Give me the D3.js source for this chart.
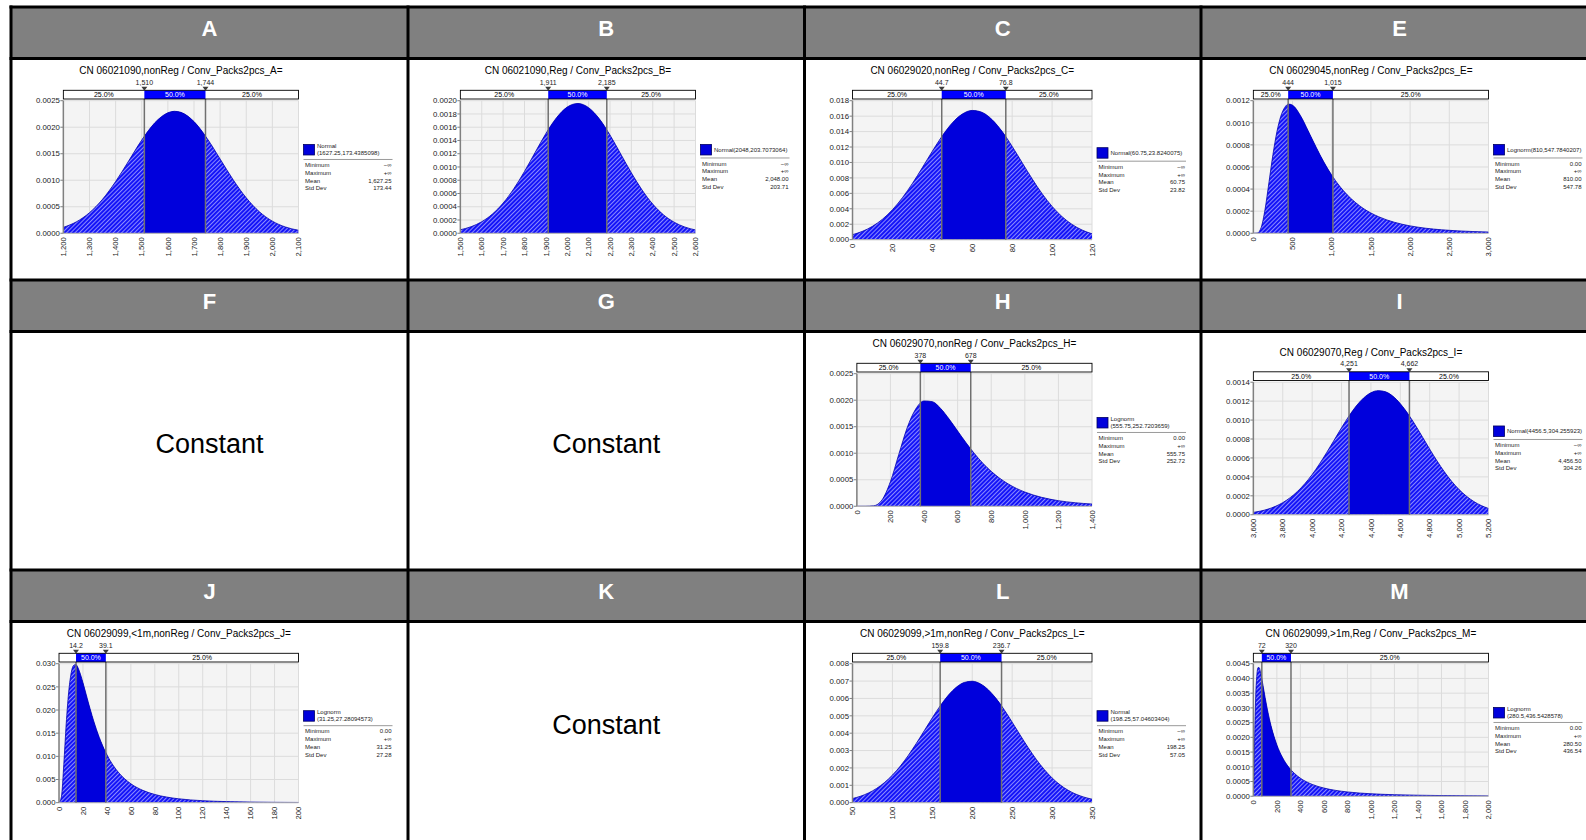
<!DOCTYPE html>
<html><head><meta charset="utf-8">
<script src="https://cdn.jsdelivr.net/npm/d3@7"></script>
<style>html,body{margin:0;padding:0;background:#fff;} svg{display:block;font-family:"Liberation Sans",Arial,sans-serif;}</style>
</head><body><svg id="c" width="1586" height="840"></svg>
<script>
// ---------- DATA ----------
const headers = ["A","B","C","E","F","G","H","I","J","K","L","M"];
const constantCells = ["F","G","K"];
const constantText = "Constant";
const pctLabels = ["25.0%","50.0%","25.0%"];
const statNames = ["Minimum","Maximum","Mean","Std Dev"];

// A
const titleA = "CN 06021090,nonReg / Conv_Packs2pcs_A=";
const xA = [1200,1250,1300,1350,1400,1450,1500,1550,1600,1625,1650,1700,1750,1800,1850,1900,1950,2000,2050,2100];
const dA = [0.000111,0.000216,0.000388,0.000641,0.000975,0.001364,0.001758,0.002083,0.002272,0.002300,0.002280,0.002106,0.001790,0.001400,0.001008,0.000668,0.000407,0.000228,0.000118,0.000056];
const xtA = [1200,1300,1400,1500,1600,1700,1800,1900,2000,2100];
const ytA = [0,0.0005,0.001,0.0015,0.002,0.0025];
const qA = [1510,1744]; const qlA = ["1,510","1,744"];
const legA = ["Normal","(1627.25,173.4385098)"];
const statsA = ["\u2212\u221e","+\u221e","1,627.25","173.44"];

// B
const titleB = "CN 06021090,Reg / Conv_Packs2pcs_B=";
const xB = [1500,1550,1600,1650,1700,1750,1800,1850,1900,1950,2000,2050,2100,2150,2200,2250,2300,2350,2400,2450,2500,2550,2600];
const dB = [0.0000525,0.0000987,0.000174,0.000290,0.000455,0.000672,0.000933,0.001221,0.001504,0.001744,0.001904,0.001958,0.001895,0.001727,0.001482,0.001197,0.000911,0.000653,0.000440,0.000279,0.000167,0.0000940,0.0000498];
const xtB = [1500,1600,1700,1800,1900,2000,2100,2200,2300,2400,2500,2600];
const ytB = [0,0.0002,0.0004,0.0006,0.0008,0.001,0.0012,0.0014,0.0016,0.0018,0.002];
const qB = [1911,2185]; const qlB = ["1,911","2,185"];
const legB = ["Normal(2048,203.7073064)"];
const statsB = ["\u2212\u221e","+\u221e","2,048.00","203.71"];

// C
const titleC = "CN 06029020,nonReg / Conv_Packs2pcs_C=";
const xC = [0,5,10,15,20,25,30,35,40,45,50,55,60,65,70,75,80,85,90,95,100,105,110,115,120];
const dC = [0.000649,0.001084,0.001732,0.002649,0.003878,0.005432,0.007281,0.009337,0.011459,0.013459,0.015125,0.016265,0.016738,0.016481,0.015530,0.014003,0.012082,0.009975,0.007882,0.005958,0.004310,0.002984,0.001976,0.001253,0.000760];
const xtC = [0,20,40,60,80,100,120];
const ytC = [0,0.002,0.004,0.006,0.008,0.010,0.012,0.014,0.016,0.018];
const qC = [44.7,76.8]; const qlC = ["44.7","76.8"];
const legC = ["Normal(60.75,23.8240075)"];
const statsC = ["\u2212\u221e","+\u221e","60.75","23.82"];

// E
const titleE = "CN 06029045,nonReg / Conv_Packs2pcs_E=";
const xE = [0,50,100,150,200,250,300,350,400,450,500,600,700,800,900,1000,1100,1200,1400,1600,1800,2000,2200,2400,2600,2800,3000];
const dE = [0,0.0000017,0.0000530,0.000220,0.000465,0.000713,0.000917,0.001059,0.001139,0.001169,0.001159,0.001066,0.000926,0.000780,0.000644,0.000526,0.000427,0.000346,0.000226,0.000149,0.0000991,0.0000667,0.0000454,0.0000313,0.0000219,0.0000155,0.0000110];
const xtE = [0,500,1000,1500,2000,2500,3000];
const ytE = [0,0.0002,0.0004,0.0006,0.0008,0.001,0.0012];
const qE = [444,1015]; const qlE = ["444","1,015"];
const legE = ["Lognorm(810,547.7840207)"];
const statsE = ["0.00","+\u221e","810.00","547.78"];

// H
const titleH = "CN 06029070,nonReg / Conv_Packs2pcs_H=";
const xH = [0,50,100,150,200,250,300,350,400,450,500,550,600,650,700,750,800,850,900,950,1000,1100,1200,1300,1400];
const dH = [0,0,0.0000085,0.000120,0.000465,0.000982,0.001484,0.001832,0.001986,0.001972,0.001840,0.001642,0.001419,0.001198,0.000993,0.000812,0.000658,0.000529,0.000423,0.000337,0.000268,0.000168,0.000105,0.0000662,0.0000418];
const xtH = [0,200,400,600,800,1000,1200,1400];
const ytH = [0,0.0005,0.001,0.0015,0.002,0.0025];
const qH = [378,678]; const qlH = ["378","678"];
const legH = ["Lognorm","(555.75,252.7203659)"];
const statsH = ["0.00","+\u221e","555.75","252.72"];

// I
const titleI = "CN 06029070,Reg / Conv_Packs2pcs_I=";
const xI = [3600,3650,3700,3750,3800,3850,3900,3950,4000,4050,4100,4150,4200,4250,4300,4350,4400,4450,4500,4550,4600,4650,4700,4750,4800,4850,4900,4950,5000,5050,5100,5150,5200];
const dI = [0.0000249,0.0000391,0.0000596,0.0000885,0.000128,0.000180,0.000246,0.000328,0.000425,0.000537,0.000660,0.000789,0.000919,0.001041,0.001149,0.001233,0.001289,0.001311,0.001298,0.001251,0.001173,0.001071,0.000952,0.000823,0.000693,0.000568,0.000453,0.000352,0.000266,0.000196,0.000140,0.0000976,0.0000662];
const xtI = [3600,3800,4000,4200,4400,4600,4800,5000,5200];
const ytI = [0,0.0002,0.0004,0.0006,0.0008,0.001,0.0012,0.0014];
const qI = [4251,4662]; const qlI = ["4,251","4,662"];
const legI = ["Normal(4456.5,304.255923)"];
const statsI = ["\u2212\u221e","+\u221e","4,456.50","304.26"];

// J
const titleJ = "CN 06029099,<1m,nonReg / Conv_Packs2pcs_J=";
const xJ = [0,2,4,6,8,10,12,14,16,18,20,25,30,35,40,45,50,60,70,80,90,100,120,140,160,180,200];
const dJ = [0,0.001239,0.008282,0.016979,0.023699,0.027755,0.029587,0.029830,0.029041,0.027632,0.025887,0.021133,0.016774,0.013181,0.010340,0.008132,0.006425,0.004080,0.002655,0.001769,0.001204,0.000836,0.000425,0.000229,0.000130,0.0000764,0.0000466];
const xtJ = [0,20,40,60,80,100,120,140,160,180,200];
const ytJ = [0,0.005,0.010,0.015,0.020,0.025,0.030];
const qJ = [14.2,39.1]; const qlJ = ["14.2","39.1"];
const legJ = ["Lognorm","(31.25,27.28094573)"];
const statsJ = ["0.00","+\u221e","31.25","27.28"];

// L
const titleL = "CN 06029099,>1m,nonReg / Conv_Packs2pcs_L=";
const xL = [50,60,70,80,90,100,110,120,130,140,150,160,170,180,190,200,210,220,230,240,250,260,270,280,290,300,310,320,330,340,350];
const dL = [0.000239,0.000371,0.000559,0.000816,0.001155,0.001587,0.002113,0.002729,0.003418,0.004152,0.004890,0.005585,0.006186,0.006644,0.006920,0.006990,0.006846,0.006503,0.005990,0.005350,0.004634,0.003892,0.003171,0.002504,0.001918,0.001425,0.001027,0.000717,0.000486,0.000319,0.000203];
const xtL = [50,100,150,200,250,300,350];
const ytL = [0,0.001,0.002,0.003,0.004,0.005,0.006,0.007,0.008];
const qL = [159.8,236.7]; const qlL = ["159.8","236.7"];
const legL = ["Normal","(198.25,57.04603404)"];
const statsL = ["\u2212\u221e","+\u221e","198.25","57.05"];

// M
const titleM = "CN 06029099,>1m,Reg / Conv_Packs2pcs_M=";
const xM = [0,5,10,20,30,40,50,60,80,100,120,150,200,250,300,350,400,500,600,700,800,1000,1200,1400,1600,1800,2000];
const dM = [0,0.000634,0.001783,0.003393,0.004125,0.004369,0.004362,0.004227,0.003808,0.003352,0.002931,0.002398,0.001743,0.001300,0.000992,0.000773,0.000613,0.000403,0.000278,0.000199,0.000146,0.0000847,0.0000526,0.0000345,0.0000235,0.0000166,0.0000120];
const xtM = [0,200,400,600,800,1000,1200,1400,1600,1800,2000];
const ytM = [0,0.0005,0.001,0.0015,0.002,0.0025,0.003,0.0035,0.004,0.0045];
const qM = [72,320]; const qlM = ["72","320"];
const legM = ["Lognorm","(280.5,436.5428578)"];
const statsM = ["0.00","+\u221e","280.50","436.54"];

const charts = [
  {id:"A", title:titleA, x:xA, d:dA, xt:xtA, yt:ytA, q:qA, ql:qlA, leg:legA, stats:statsA},
  {id:"B", title:titleB, x:xB, d:dB, xt:xtB, yt:ytB, q:qB, ql:qlB, leg:legB, stats:statsB},
  {id:"C", title:titleC, x:xC, d:dC, xt:xtC, yt:ytC, q:qC, ql:qlC, leg:legC, stats:statsC},
  {id:"E", title:titleE, x:xE, d:dE, xt:xtE, yt:ytE, q:qE, ql:qlE, leg:legE, stats:statsE},
  {id:"H", title:titleH, x:xH, d:dH, xt:xtH, yt:ytH, q:qH, ql:qlH, leg:legH, stats:statsH},
  {id:"I", title:titleI, x:xI, d:dI, xt:xtI, yt:ytI, q:qI, ql:qlI, leg:legI, stats:statsI},
  {id:"J", title:titleJ, x:xJ, d:dJ, xt:xtJ, yt:ytJ, q:qJ, ql:qlJ, leg:legJ, stats:statsJ},
  {id:"L", title:titleL, x:xL, d:dL, xt:xtL, yt:ytL, q:qL, ql:qlL, leg:legL, stats:statsL},
  {id:"M", title:titleM, x:xM, d:dM, xt:xtM, yt:ytM, q:qM, ql:qlM, leg:legM, stats:statsM}
];

// ---------- LAYOUT ----------
const colX = [11, 408, 804.5, 1201, 1598];
const rowY = [7, 58.5, 280, 331.5, 570, 621.5, 843];
const chartShiftY = {I: 8.5};
const FONT_T = 10, FONT_Y = 7.8, FONT_X = 7.7, FONT_S = 7, FONT_L = 6;

const svg = d3.select("#c");
const defs = svg.append("defs");
const pat = defs.append("pattern").attr("id","hatch").attr("patternUnits","userSpaceOnUse")
  .attr("width",3).attr("height",3).attr("patternTransform","rotate(45)");
pat.append("rect").attr("width",3).attr("height",3).attr("fill","#1414f8");
pat.append("rect").attr("width",1).attr("height",3).attr("fill","#8a8aff");

svg.append("rect").attr("width",1586).attr("height",840).attr("fill","#fff");

// header rows
[0,2,4].forEach(h=>{
  svg.append("rect").attr("x",colX[0]).attr("y",rowY[h]).attr("width",colX[4]-colX[0])
    .attr("height",rowY[h+1]-rowY[h]).attr("fill","#808080");
});
// grid lines
colX.forEach(cx=>svg.append("line").attr("x1",cx).attr("x2",cx).attr("y1",rowY[0]-1.5).attr("y2",rowY[6]+1.5)
  .attr("stroke","#000").attr("stroke-width",3));
rowY.forEach(ry=>svg.append("line").attr("x1",colX[0]-1.5).attr("x2",colX[4]+1.5).attr("y1",ry).attr("y2",ry)
  .attr("stroke","#000").attr("stroke-width",3));

// header letters
headers.forEach((h,i)=>{
  const c = i%4, r = Math.floor(i/4);
  svg.append("text").attr("x",(colX[c]+colX[c+1])/2).attr("y",rowY[r*2]+29)
    .attr("text-anchor","middle").attr("font-size",22).attr("font-weight","bold").attr("fill","#fff").text(h);
});

// constant cells
constantCells.forEach(id=>{
  const i = headers.indexOf(id), c = i%4, r = Math.floor(i/4);
  const cy = (rowY[r*2+1]+rowY[r*2+2])/2;
  svg.append("text").attr("x",(colX[c]+colX[c+1])/2).attr("y",cy+2.2)
    .attr("text-anchor","middle").attr("font-size",27).attr("fill","#000").text(constantText);
});

const meas = svg.append("text").attr("visibility","hidden");
function tw(s, size){ meas.attr("font-size",size).text(s); return meas.node().getComputedTextLength(); }

function drawChart(p){
  const i = headers.indexOf(p.id), c = i%4, r = Math.floor(i/4);
  const ox = colX[c], oy = rowY[r*2+1] + (chartShiftY[p.id]||0);
  const g = svg.append("g").attr("transform",`translate(${ox},${oy})`);
  const yfmt = d3.format("."+d3.precisionFixed(p.yt[1]-p.yt[0])+"f");
  const xfmt = d3.format(",");
  const wy = d3.max(p.yt, t=>tw(yfmt(t), FONT_Y));
  const wx = d3.max(p.xt, t=>tw(xfmt(t), FONT_X));
  const L = 25 + wy + 3.5, R = 287.5, T = 42.2, B = 194 - wx;
  const x = d3.scaleLinear().domain([p.xt[0], p.xt[p.xt.length-1]]).range([L,R]);
  const y = d3.scaleLinear().domain([0, p.yt[p.yt.length-1]]).range([B,T]);

  g.append("rect").attr("x",L).attr("y",T).attr("width",R-L).attr("height",B-T).attr("fill","#f4f4f4");
  g.selectAll(".vg").data(p.xt).join("line").attr("x1",d=>x(d)).attr("x2",d=>x(d)).attr("y1",T).attr("y2",B)
    .attr("stroke","#dcdcdc").attr("stroke-width",1);
  g.selectAll(".hg").data(p.yt).join("line").attr("x1",L).attr("x2",R).attr("y1",d=>y(d)).attr("y2",d=>y(d))
    .attr("stroke","#dcdcdc").attr("stroke-width",1);

  const cpAll = "cpa"+p.id, cpMid = "cpm"+p.id;
  defs.append("clipPath").attr("id",cpAll).append("rect").attr("x",L).attr("y",T-2).attr("width",R-L).attr("height",B-T+2);
  defs.append("clipPath").attr("id",cpMid).append("rect").attr("x",x(p.q[0])).attr("y",T-2)
    .attr("width",x(p.q[1])-x(p.q[0])).attr("height",B-T+2);
  const area = d3.area().x((d,k)=>x(p.x[k])).y0(B).y1(d=>y(d)).curve(d3.curveMonotoneX);
  const line = d3.line().x((d,k)=>x(p.x[k])).y(d=>y(d)).curve(d3.curveMonotoneX);
  g.append("path").datum(p.d).attr("d",area).attr("fill","url(#hatch)").attr("clip-path",`url(#${cpAll})`);
  g.append("path").datum(p.d).attr("d",area).attr("fill","#0000dc").attr("clip-path",`url(#${cpMid})`);
  g.append("path").datum(p.d).attr("d",line).attr("fill","none").attr("stroke","#0000b0").attr("stroke-width",0.8)
    .attr("clip-path",`url(#${cpAll})`);

  // axes
  g.append("line").attr("x1",L).attr("x2",L).attr("y1",T).attr("y2",B).attr("stroke","#808080").attr("stroke-width",1.5);
  g.append("line").attr("x1",L).attr("x2",R).attr("y1",B).attr("y2",B).attr("stroke","#b0b0b0").attr("stroke-width",1);
  g.selectAll(".yt").data(p.yt).join("line").attr("x1",L-3).attr("x2",L).attr("y1",d=>y(d)).attr("y2",d=>y(d))
    .attr("stroke","#808080").attr("stroke-width",1);
  g.selectAll(".yl").data(p.yt).join("text").attr("x",L-3.5).attr("y",d=>y(d)).attr("dy","0.35em")
    .attr("text-anchor","end").attr("font-size",FONT_Y).attr("fill","#222").text(d=>yfmt(d));
  g.selectAll(".xl").data(p.xt).join("text")
    .attr("transform",d=>`translate(${x(d)},${B+4}) rotate(-90)`).attr("dy","0.35em")
    .attr("text-anchor","end").attr("font-size",FONT_X).attr("fill","#222").text(d=>xfmt(d));

  // percentile bar
  const bT = 31.8, bH = 8.7;
  g.selectAll(".ql").data(p.q).join("line").attr("x1",d=>x(d)).attr("x2",d=>x(d)).attr("y1",bT+bH).attr("y2",B)
    .attr("stroke","#707070").attr("stroke-width",1.5);
  g.append("rect").attr("x",L).attr("y",bT).attr("width",R-L).attr("height",bH).attr("fill","#fff");
  g.append("rect").attr("x",x(p.q[0])).attr("y",bT).attr("width",x(p.q[1])-x(p.q[0])).attr("height",bH).attr("fill","#0000ff");
  g.append("rect").attr("x",L).attr("y",bT).attr("width",R-L).attr("height",bH).attr("fill","none")
    .attr("stroke","#000").attr("stroke-width",0.9);
  const segs = [[L,x(p.q[0])],[x(p.q[0]),x(p.q[1])],[x(p.q[1]),R]];
  segs.forEach((s,k)=>{
    if (s[1]-s[0] > tw(pctLabels[k],FONT_S)+4) {
      g.append("text").attr("x",(s[0]+s[1])/2).attr("y",bT+bH/2).attr("dy","0.35em").attr("text-anchor","middle")
        .attr("font-size",FONT_S).attr("fill",k===1?"#fff":"#000").text(pctLabels[k]);
    }
  });
  p.q.forEach((qv,k)=>{
    const qx = x(qv);
    g.append("path").attr("d",`M${qx-3},${bT-3.6}L${qx+3},${bT-3.6}L${qx},${bT+0.4}Z`).attr("fill","#3c3c3c");
    g.append("text").attr("x",qx).attr("y",bT-8).attr("dy","0.35em").attr("text-anchor","middle")
      .attr("font-size",FONT_S).attr("fill","#222").text(p.ql[k]);
  });

  // title
  g.append("text").attr("x",(L+R)/2).attr("y",15.8).attr("text-anchor","middle").attr("font-size",FONT_T)
    .attr("fill","#000").text(p.title);

  // legend
  const lx = R + 5, top = (T+B)/2 - 22.5, lr = 380.5;
  g.append("rect").attr("x",lx).attr("y",top).attr("width",11).attr("height",10.5).attr("fill","#0000dc")
    .attr("stroke","#000060").attr("stroke-width",0.8);
  if (p.leg.length === 1) {
    g.append("text").attr("x",lx+13.5).attr("y",top+5.25).attr("dy","0.35em").attr("font-size",FONT_L)
      .attr("fill","#222").text(p.leg[0]);
  } else {
    p.leg.forEach((s,k)=>g.append("text").attr("x",lx+13.5).attr("y",top+1.2+k*7.2).attr("dy","0.35em")
      .attr("font-size",FONT_L).attr("fill","#222").text(s));
  }
  const sep = top + (p.leg.length===1 ? 13.5 : 15);
  g.append("line").attr("x1",lx).attr("x2",lr+1).attr("y1",sep).attr("y2",sep).attr("stroke","#808080").attr("stroke-width",0.8);
  statNames.forEach((s,k)=>{
    const yy = sep + 5.7 + k*7.7;
    g.append("text").attr("x",lx+1.6).attr("y",yy).attr("dy","0.35em").attr("font-size",FONT_L).attr("fill","#222").text(s);
    g.append("text").attr("x",lr).attr("y",yy).attr("dy","0.35em").attr("text-anchor","end").attr("font-size",FONT_L)
      .attr("fill","#222").text(p.stats[k]);
  });
}
charts.forEach(drawChart);
meas.remove();
</script></body></html>
